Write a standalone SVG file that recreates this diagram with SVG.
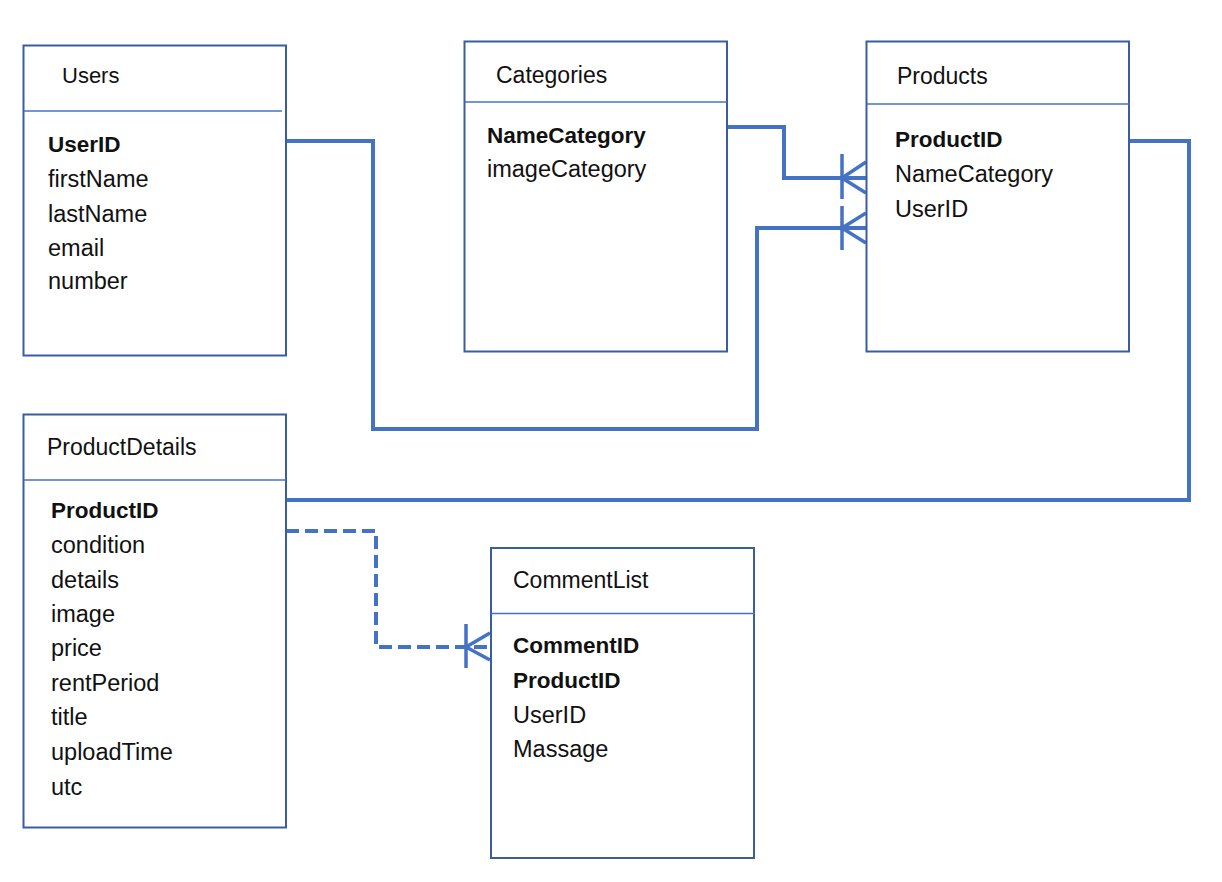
<svg xmlns="http://www.w3.org/2000/svg" width="1222" height="882" viewBox="0 0 1222 882">
<style>
.box{fill:#fff;stroke:#3A5DA0;stroke-width:2}
.div{stroke:#4472C4;stroke-width:1.5}
.hd{font-family:"Liberation Sans",Arial,sans-serif;font-size:23px;fill:#111}
.tx{font-family:"Liberation Sans",Arial,sans-serif;font-size:23.5px;fill:#111}
.b{font-weight:bold;font-size:22.5px}
.ln{fill:none;stroke:#4472C4;stroke-width:4}
.dash{stroke-dasharray:13 6}
.cf{fill:none;stroke:#4472C4;stroke-width:3.5}
</style>
<rect width="1222" height="882" fill="#fff"/>
<g id="connectors">
<path class="ln" d="M286,141 H373 V429 H757 V228 H866"/>
<path class="cf" d="M842,206 V250 M842,228 L866,213 M842,228 L866,243"/>
<path class="ln" d="M727,127 H784 V178 H866"/>
<path class="cf" d="M842,154 V199 M842,178 L866,162 M842,178 L866,193"/>
<path class="ln" d="M1129,141 H1189 V500 H286"/>
<path class="ln dash" d="M286,531 H376 V647 H490"/>
<path class="cf" d="M466,624 V668 M466,647 L490,633 M466,647 L490,660"/>
</g>
<g id="users">
<rect class="box" x="23.5" y="45.5" width="262.5" height="310"/>
<line class="div" x1="24" y1="111" x2="282" y2="111"/>
<text class="hd" x="62" y="83" style="font-size:22px">Users</text>
<text class="tx b" x="48" y="152">UserID</text>
<text class="tx" x="48" y="187">firstName</text>
<text class="tx" x="48" y="222">lastName</text>
<text class="tx" x="48" y="256">email</text>
<text class="tx" x="48" y="289">number</text>
</g>
<g id="categories">
<rect class="box" x="464.5" y="41.5" width="262.5" height="310"/>
<line class="div" x1="465" y1="102" x2="727" y2="102"/>
<text class="hd" x="496" y="83">Categories</text>
<text class="tx b" x="487" y="143">NameCategory</text>
<text class="tx" x="487" y="177">imageCategory</text>
</g>
<g id="products">
<rect class="box" x="866.5" y="41.5" width="262.5" height="310"/>
<line class="div" x1="867" y1="104" x2="1129" y2="104"/>
<text class="hd" x="897" y="84">Products</text>
<text class="tx b" x="895" y="147">ProductID</text>
<text class="tx" x="895" y="182">NameCategory</text>
<text class="tx" x="895" y="217">UserID</text>
</g>
<g id="productdetails">
<rect class="box" x="23.5" y="414.5" width="262.5" height="413"/>
<line class="div" x1="24" y1="480" x2="286" y2="480"/>
<text class="hd" x="47" y="455">ProductDetails</text>
<text class="tx b" x="51" y="518">ProductID</text>
<text class="tx" x="51" y="553">condition</text>
<text class="tx" x="51" y="588">details</text>
<text class="tx" x="51" y="622">image</text>
<text class="tx" x="51" y="656">price</text>
<text class="tx" x="51" y="691">rentPeriod</text>
<text class="tx" x="51" y="725">title</text>
<text class="tx" x="51" y="760">uploadTime</text>
<text class="tx" x="51" y="795">utc</text>
</g>
<g id="commentlist">
<rect class="box" x="491" y="548" width="263" height="310"/>
<line class="div" x1="491" y1="613.5" x2="755" y2="613.5"/>
<text class="hd" x="513" y="588">CommentList</text>
<text class="tx b" x="513" y="653">CommentID</text>
<text class="tx b" x="513" y="688">ProductID</text>
<text class="tx" x="513" y="723">UserID</text>
<text class="tx" x="513" y="757">Massage</text>
</g>
</svg>
